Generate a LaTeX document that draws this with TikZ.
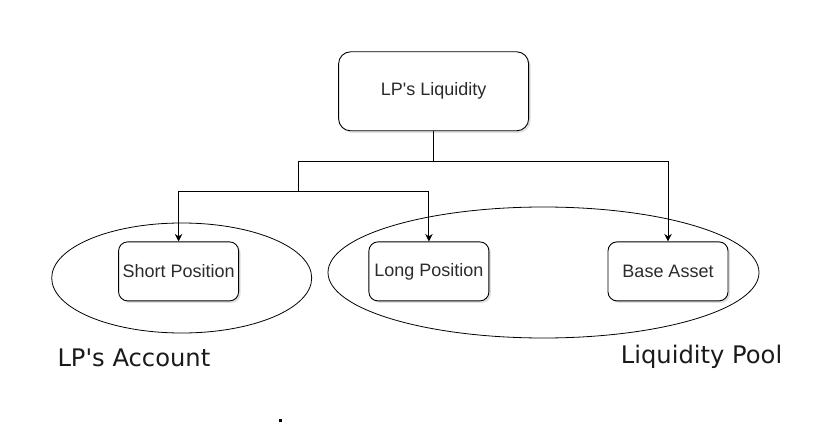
\documentclass[tikz,border=0pt]{standalone}
\usepackage{fontspec}
\newfontfamily\boxfont{Liberation Sans}
\newfontfamily\labelfont{DejaVu Sans}
\usetikzlibrary{shapes.geometric,arrows.meta,shadows}
\definecolor{boxtext}{HTML}{2B2B2B}
\definecolor{labeltext}{HTML}{1A1A1A}
\tikzset{
  boxnode/.style={draw=black, line width=0.9pt, fill=white, rounded corners=9pt,
    minimum width=120pt, minimum height=59pt, inner sep=0pt,
    font=\boxfont\fontsize{18}{21}\selectfont, text=boxtext,
    drop shadow={opacity=0.25, shadow xshift=2pt, shadow yshift=-2pt}},
  topnode/.style={boxnode, rounded corners=12pt, minimum width=190pt, minimum height=79pt},
  groupellipse/.style={ellipse, draw=black, line width=0.8pt, inner sep=0pt},
  conn/.style={draw=black, line width=0.9pt},
  arr/.style={conn, -{Stealth[length=7.5pt,width=7.5pt]}},
  biglabel/.style={font=\labelfont\fontsize{24.2}{28}\selectfont, text=labeltext, inner sep=0pt, anchor=base west}
}
\begin{document}
\begin{tikzpicture}[x=1pt, y=-1pt]
\useasboundingbox (0,0) rectangle (840,422);
% groups
\node[groupellipse, minimum width=260pt, minimum height=110pt] (acct) at (181.7,278) {};
\node[groupellipse, minimum width=431pt, minimum height=131pt] (pool) at (543.5,272.5) {};
% boxes
\node[topnode] (top) at (433.6,91.3) {LP's Liquidity};
\node[boxnode] (short) at (178.6,271.4) {Short Position};
\node[boxnode] (long) at (428.9,271.4) {Long Position};
\node[boxnode] (base) at (668.0,271.4) {Base Asset};
% junctions
\coordinate (split) at (298.3,161);
\coordinate (split2) at (298.3,191.5);
% connectors
\draw[conn] (top.south) |- (split);
\draw[arr] (top.south) -- ++(0,30) -| (base.north);
\draw[conn] (split) -- (split2);
\draw[arr] (split2) -| (short.north);
\draw[arr] (split2) -| (long.north);
% labels
\node[biglabel] (acctlabel) at (57.3,366.7) {LP's Account};
\node[biglabel] (poollabel) at (620.7,363.3) {Liquidity Pool};
% stray dot
\fill[black] (279,419) rectangle (282,422);
\end{tikzpicture}
\end{document}
